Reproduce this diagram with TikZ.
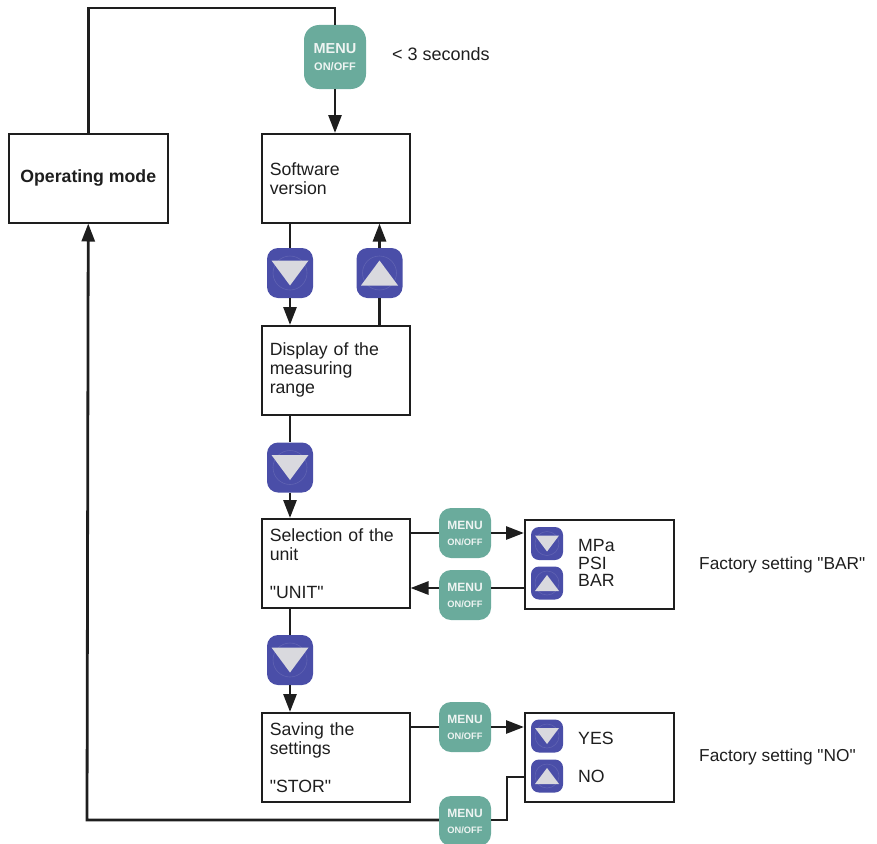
\documentclass[tikz,border=0pt]{standalone}
\usepackage{fontspec}
\setmainfont{Liberation Sans}
\usetikzlibrary{arrows.meta,calc}
\definecolor{teal1}{HTML}{6AAB9C}
\definecolor{blue1}{HTML}{4A4EA8}
\definecolor{tri1}{HTML}{D9D9DE}
\definecolor{btext}{HTML}{EEF4F2}
\definecolor{ink}{HTML}{1E1E1E}
\tikzset{
  stepbox/.style={draw=ink, line width=1.5pt, minimum width=148pt, minimum height=89pt,
    text width=132pt, align=left, inner xsep=8pt, anchor=north west, text=ink,
    font=\fontsize{17.7}{19}\selectfont},
  optbox/.style={draw=ink, line width=1.5pt, minimum width=149pt, minimum height=89pt, anchor=north west},
  bigmenu/.style={fill=teal1, rounded corners=15pt, minimum width=62pt, minimum height=64pt, inner sep=0pt, text=btext, align=center},
  smallmenu/.style={fill=teal1, rounded corners=12pt, minimum width=52pt, minimum height=50pt, inner sep=0pt, text=btext, align=center},
  bigblue/.style={fill=blue1, rounded corners=11pt, minimum width=46pt, minimum height=50pt, inner sep=0pt},
  smallblue/.style={fill=blue1, rounded corners=8pt, minimum width=32pt, minimum height=33pt, inner sep=0pt},
  conn/.style={draw=ink, line width=2.8pt},
  arr/.style={draw=ink, line width=2.8pt, -{Triangle[length=18pt,width=13pt]}},
  lbl/.style={anchor=west, inner sep=0pt, text=ink, font=\fontsize{17.7}{17.5}\selectfont, align=left},
  tri/.style={fill=tri1},
  ring/.style={draw=blue1!88!white, line width=0.6pt}
}
\newcommand{\downtri}[3]{%
  \fill[tri] ([shift={(-#2,-#3)}]#1.center) -- ([shift={(#2,-#3)}]#1.center) -- ([shift={(0,#3)}]#1.center) -- cycle;}
\newcommand{\uptri}[3]{%
  \fill[tri] ([shift={(-#2,#3)}]#1.center) -- ([shift={(#2,#3)}]#1.center) -- ([shift={(0,-#3)}]#1.center) -- cycle;}
\newcommand{\bigmenutext}{{\bfseries\fontsize{14.5}{14.5}\selectfont MENU}\\[5pt]{\bfseries\fontsize{11}{11}\selectfont ON/OFF}}
\newcommand{\smallmenutext}{{\bfseries\fontsize{12}{12}\selectfont MENU}\\[4pt]{\bfseries\fontsize{9.3}{9.3}\selectfont ON/OFF}}
\newcommand{\qq}{\textquotedbl}
\begin{document}
\begin{tikzpicture}[x=1pt,y=-1pt]
\useasboundingbox (0,0) rectangle (877,843);

% boxes
\node[draw=ink, text=ink, line width=1.5pt, minimum width=159pt, minimum height=89pt, anchor=north west,
  font=\bfseries\fontsize{17.7}{19}\selectfont] (op) at (8,133) {Operating mode};
\node[stepbox] (sw) at (261,133) {Software\\version};
\node[stepbox] (disp) at (261,325) {Display of the\\measuring\\range};
\node[stepbox] (sel) at (261,518) {Selection of the\\unit\\[19pt]\qq UNIT\qq};
\node[stepbox] (save) at (261,712) {Saving the\\settings\\[19pt]\qq STOR\qq};
\node[optbox] (opt1) at (524,519) {};
\node[optbox] (opt2) at (524,712) {};

% menu buttons
\node[bigmenu] (m1) at (335,57) {\bigmenutext};
\node[smallmenu] (mn1) at (465,533) {\smallmenutext};
\node[smallmenu] (mn2) at (465,595) {\smallmenutext};
\node[smallmenu] (mn3) at (465,727) {\smallmenutext};
\node[smallmenu] (mn4) at (465,821) {\smallmenutext};

% blue buttons
\node[bigblue] (d1) at (290,273) {};
\node[bigblue] (u1) at (379.5,273) {};
\node[bigblue] (d2) at (290,467.5) {};
\node[bigblue] (d3) at (290,660) {};
\foreach \b in {d1,u1,d2,d3}{\draw[ring] (\b.center) circle (17pt);}
\downtri{d1}{18.5}{12.5}
\uptri{u1}{18.5}{12.5}
\downtri{d2}{18.5}{12.5}
\downtri{d3}{18.5}{12.5}

\node[smallblue] (sd1) at (547,543.5) {};
\node[smallblue] (su1) at (547,583) {};
\node[smallblue] (sd2) at (547,736) {};
\node[smallblue] (su2) at (547,776) {};
\foreach \b in {sd1,su1,sd2,su2}{\draw[ring] (\b.center) circle (12pt);}
\downtri{sd1}{12}{8}
\uptri{su1}{12}{8}
\downtri{sd2}{12}{8}
\uptri{su2}{12}{8}

% labels
\node[lbl, font=\fontsize{18}{18}\selectfont] (sec) at (392,54) {< 3 seconds};
\node[lbl] (units) at (578,563) {MPa\\PSI\\BAR};
\node[lbl] (yes) at (578,738) {YES};
\node[lbl] (no) at (578,776) {NO};
\node[lbl, font=\fontsize{17.3}{17}\selectfont] (fs1) at (699,565) {Factory setting \qq BAR\qq};
\node[lbl, font=\fontsize{17.3}{17}\selectfont] (fs2) at (699,757) {Factory setting \qq NO\qq};

% connectors
\coordinate (top) at (335,8);
\draw[conn] (op.north) |- (top) -- (m1.north);
\draw[arr] (m1.south) -- (m1.south |- sw.north);

\draw[conn] (d1.north |- sw.south) -- (d1.north);
\draw[arr] (d1.south) -- (d1.south |- disp.north);
\draw[conn] (u1.south |- disp.north) -- (u1.south);
\draw[arr] (u1.north) -- (u1.north |- sw.south);

\draw[conn] (d2.north |- disp.south) -- (d2.north);
\draw[arr] (d2.south) -- (d2.south |- sel.north);

\draw[conn] (d3.north |- sel.south) -- (d3.north);
\draw[arr] (d3.south) -- (d3.south |- save.north);

\draw[conn] (mn1 -| sel.east) -- (mn1.west);
\draw[arr] (mn1.east) -- (mn1 -| opt1.west);

\coordinate (r1) at (524,588);
\draw[conn] (r1) -- (r1 -| mn2.east);
\draw[arr] (r1 -| mn2.west) -- (r1 -| sel.east);

\draw[conn] (mn3 -| save.east) -- (mn3.west);
\draw[arr] (mn3.east) -- (mn3 -| opt2.west);

\coordinate (r2) at (524,777);
\coordinate (r2b) at (507,777);
\coordinate (bot) at (87,820);
\draw[conn] (r2) -- (r2b) |- (mn4.east |- bot) ;
\draw[arr] (mn4.west |- bot) -- (bot) -- (op.south);
\end{tikzpicture}
\end{document}
